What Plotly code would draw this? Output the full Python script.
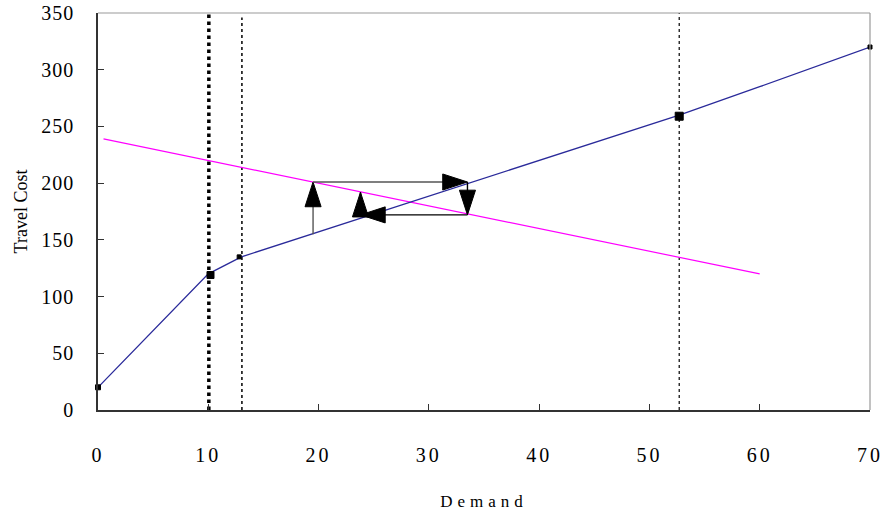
import plotly.graph_objects as go

# Data
supply_x = [0, 10, 13, 52.7, 60, 70]
supply_y = [20, 120, 135, 260, 285, 320]
marker_x = [0, 10.2, 12.8, 52.7, 70]
marker_y = [20, 119, 135, 259, 320]
demand_x = [0.5, 60]
demand_y = [239, 120]
vlines_x = [10.05, 13.05, 52.7]
vlines_top = [350, 346, 350]
path_x = [19.5, 19.5, 33.5, 33.5, 23.8, 23.8]
path_y = [155, 201, 201, 172, 172, 192]
xticks = [0, 10, 20, 30, 40, 50, 60, 70]
yticks = [0, 50, 100, 150, 200, 250, 300, 350]

FONT = "Liberation Serif, Times New Roman, serif"

def spaced(t, px=2):
    return f'<span style="letter-spacing:{px}px">{t}</span>'

fig = go.Figure()

vstyles = [dict(width=3.5, dash="dot"), dict(width=1.5, dash="dot"), dict(width=1.2, dash="dot")]
for vx, vt, st in zip(vlines_x, vlines_top, vstyles):
    fig.add_trace(go.Scatter(x=[vx, vx], y=[0, vt], mode="lines",
                             line=dict(color="black", **st), hoverinfo="skip"))

fig.add_trace(go.Scatter(x=demand_x, y=demand_y, mode="lines",
                         line=dict(color="#ff00ff", width=1.2)))
fig.add_trace(go.Scatter(x=supply_x, y=supply_y, mode="lines",
                         line=dict(color="#2a2a9a", width=1.3)))
fig.add_trace(go.Scatter(x=marker_x, y=marker_y, mode="markers",
                         marker=dict(symbol="square", color="black", opacity=1,
                                     size=[5, 7, 4, 8, 4],
                                     line=dict(width=1, color="black")),
                         cliponaxis=False))

shaft_colors = ["#555", "#555", "black", "black", "black"]
for i in range(len(path_x) - 1):
    fig.add_trace(go.Scatter(
        x=[path_x[i], path_x[i + 1]], y=[path_y[i], path_y[i + 1]],
        mode="lines+markers",
        line=dict(color=shaft_colors[i], width=1.4),
        marker=dict(symbol=["circle", "arrow"], size=[0, 26], angleref="previous",
                    color="black", opacity=1, line=dict(width=1, color="black")),
        cliponaxis=False))

fig.add_shape(type="line", xref="paper", yref="paper", x0=0, x1=1, y0=1, y1=1,
              line=dict(color="#999", width=1.2))
fig.add_shape(type="line", xref="paper", yref="paper", x0=1, x1=1, y0=0, y1=1,
              line=dict(color="#999", width=1.2))

fig.update_layout(
    width=884, height=516,
    margin=dict(l=98, r=14, t=13, b=106),
    plot_bgcolor="white", paper_bgcolor="white",
    showlegend=False,
    font=dict(family=FONT, color="black"),
    xaxis=dict(range=[0, 70], tickvals=xticks, ticktext=[spaced(str(t), 3) for t in xticks],
               ticks="inside", ticklen=6, tickcolor="#333", showline=True, linecolor="#333",
               linewidth=1.5, showgrid=False, zeroline=False, ticklabelstandoff=26,
               automargin=False,
               tickfont=dict(size=20, family=FONT),
               title=dict(text=spaced("Demand", 5), font=dict(size=17, family=FONT), standoff=30)),
    yaxis=dict(range=[0, 350], tickvals=yticks, ticktext=[spaced(str(t), 1) for t in yticks],
               ticks="inside", ticklen=6, tickcolor="#333", showline=True, linecolor="#333",
               linewidth=1.5, showgrid=False, zeroline=False, ticklabelstandoff=18,
               automargin=False,
               tickfont=dict(size=20, family=FONT),
               title=dict(text="Travel Cost", font=dict(size=18, family=FONT), standoff=9)),
)

fig.write_html("out.html", config={"displayModeBar": False},
               post_script="document.body.style.margin='0';")
